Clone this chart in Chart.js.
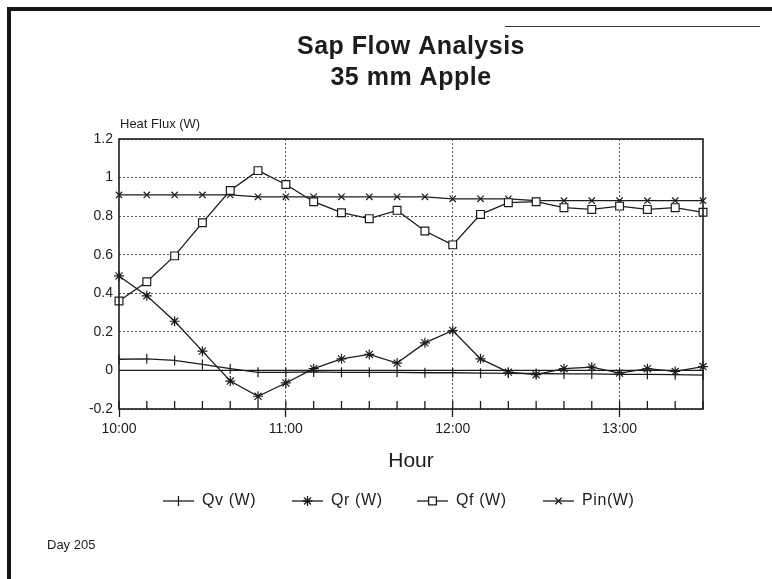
<!DOCTYPE html>
<html>
<head>
<meta charset="utf-8">
<script src="https://cdn.jsdelivr.net/npm/chart.js@4.4.0/dist/chart.umd.min.js"></script>
<style>
  html, body { margin: 0; padding: 0; background: #fff; }
  #wrap { width: 772px; height: 579px; position: relative; }
</style>
</head>
<body>
<div id="wrap"><canvas id="flux"></canvas></div>
<script>
// readings every 10 minutes, Day 205
const times = ['10:00','10:10','10:20','10:30','10:40','10:50','11:00','11:10','11:20','11:30','11:40',
               '11:50','12:00','12:10','12:20','12:30','12:40','12:50','13:00','13:10','13:20','13:30'];
const qv  = [0.058, 0.06, 0.052, 0.031, 0.009, -0.01, -0.01, -0.008, -0.01, -0.01, -0.01,
             -0.012, -0.012, -0.014, -0.015, -0.016, -0.018, -0.018, -0.02, -0.02, -0.022, -0.024];
const qr  = [0.49, 0.387, 0.255, 0.10, -0.055, -0.134, -0.065, 0.009, 0.06, 0.083, 0.038,
             0.143, 0.207, 0.06, -0.009, -0.022, 0.009, 0.017, -0.014, 0.009, -0.005, 0.02];
const qf  = [0.36, 0.46, 0.594, 0.766, 0.933, 1.036, 0.964, 0.875, 0.818, 0.787, 0.83,
             0.723, 0.651, 0.809, 0.87, 0.875, 0.844, 0.835, 0.852, 0.835, 0.844, 0.82];
const pin = [0.91, 0.91, 0.91, 0.91, 0.91, 0.90, 0.90, 0.90, 0.90, 0.90, 0.90,
             0.90, 0.89, 0.89, 0.89, 0.88, 0.88, 0.88, 0.88, 0.88, 0.88, 0.88];
const seriesNames = ['Qv (W)', 'Qr (W)', 'Qf (W)', 'Pin(W)'];

const FONT = "'Liberation Sans', Arial, sans-serif";
const INK = '#1c1c1c';

function isHour(i) { return times[i] && times[i].endsWith(':00'); }

function lineSet(label, data, style, radius, extra) {
  return Object.assign({
    label: label,
    data: data,
    borderColor: INK,
    borderWidth: 1.3,
    tension: 0,
    pointStyle: style,
    pointRadius: radius,
    pointBorderColor: INK,
    pointBorderWidth: 1.2,
    pointBackgroundColor: '#fff'
  }, extra || {});
}

// frame, box, zero line, inner minute ticks, texts and legend
const paperPlugin = {
  id: 'paper',
  afterDraw(chart) {
    const { ctx, chartArea: a, scales } = chart;
    const x = scales.x, y = scales.y;
    ctx.save();

    // zero line
    ctx.strokeStyle = INK;
    ctx.lineWidth = 1.3;
    ctx.beginPath();
    ctx.moveTo(a.left, y.getPixelForValue(0));
    ctx.lineTo(a.right, y.getPixelForValue(0));
    ctx.stroke();

    // plot box
    ctx.lineWidth = 1.6;
    ctx.strokeRect(a.left, a.top, a.right - a.left, a.bottom - a.top);

    // upward ticks every 10 minutes
    ctx.lineWidth = 1.3;
    times.forEach((t, i) => {
      const px = x.getPixelForValue(i);
      ctx.beginPath();
      ctx.moveTo(px, a.bottom);
      ctx.lineTo(px, a.bottom - 8);
      ctx.stroke();
    });

    // page frame
    ctx.fillStyle = '#151515';
    ctx.fillRect(7, 7, 772 - 7, 4);
    ctx.fillRect(7, 7, 4, 579 - 7);
    ctx.strokeStyle = '#333';
    ctx.lineWidth = 1;
    ctx.beginPath();
    ctx.moveTo(505, 26.5);
    ctx.lineTo(760, 26.5);
    ctx.stroke();

    // titles
    ctx.fillStyle = INK;
    ctx.textAlign = 'center';
    ctx.textBaseline = 'middle';
    ctx.font = 'bold 25px ' + FONT;
    ctx.letterSpacing = '0.5px';
    ctx.fillText('Sap Flow Analysis', 411, 47);
    ctx.fillText('35 mm Apple', 411, 78);
    ctx.letterSpacing = '0px';

    ctx.textAlign = 'left';
    ctx.font = '13px ' + FONT;
    ctx.fillText('Heat Flux (W)', a.left + 1, a.top - 15);
    ctx.fillText('Day 205', 47, 545);

    // legend: short line with the series marker, then its name
    const items = chart.data.datasets;
    const starts = [163, 292, 417, 543];
    const ly = 501;
    ctx.font = '16px ' + FONT;
    ctx.letterSpacing = '0.6px';
    items.forEach((ds, i) => {
      const sx = starts[i];
      ctx.strokeStyle = INK;
      ctx.lineWidth = 1.3;
      ctx.beginPath();
      ctx.moveTo(sx, ly);
      ctx.lineTo(sx + 31, ly);
      ctx.stroke();
      ctx.fillStyle = '#fff';
      Chart.helpers.drawPoint(ctx, {
        pointStyle: ds.pointStyle,
        radius: ds.pointRadius,
        rotation: ds.pointRotation || 0,
        borderWidth: 1.2
      }, sx + 15.5, ly);
      ctx.fillStyle = INK;
      ctx.fillText(seriesNames[i], sx + 39, ly);
    });

    ctx.restore();
  }
};

new Chart(document.getElementById('flux'), {
  type: 'line',
  data: {
    labels: times,
    datasets: [
      lineSet(seriesNames[0], qv, 'line', 5, { pointRotation: 90 }),
      lineSet(seriesNames[1], qr, 'star', 5),
      lineSet(seriesNames[2], qf, 'rect', 5.5),
      lineSet(seriesNames[3], pin, 'crossRot', 4.5)
    ]
  },
  options: {
    responsive: true,
    maintainAspectRatio: false,
    animation: false,
    layout: { padding: { left: 74, right: 69, top: 139, bottom: 102 } },
    plugins: {
      legend: { display: false },
      title: { display: false },
      tooltip: { enabled: false }
    },
    scales: {
      x: {
        type: 'category',
        offset: false,
        afterFit(scale) { scale.height = 68; },
        grid: {
          color: ctx => (ctx.index > 0 && ctx.index < times.length - 1 && isHour(ctx.index)) ? '#555' : 'rgba(0,0,0,0)',
          lineWidth: 1,
          drawTicks: true,
          tickLength: 8,
          tickColor: ctx => isHour(ctx.index) ? INK : 'rgba(0,0,0,0)',
          tickWidth: 1.3,
          tickBorderDash: []
        },
        border: { display: false, dash: [2, 2] },
        ticks: {
          autoSkip: false,
          maxRotation: 0,
          padding: 4,
          color: INK,
          font: { family: FONT, size: 14 },
          callback(val, i) { return isHour(i) ? times[i] : ''; }
        },
        title: {
          display: true,
          text: 'Hour',
          color: INK,
          font: { family: FONT, size: 21 },
          padding: { top: 0, bottom: 3 }
        }
      },
      y: {
        min: -0.2,
        max: 1.2,
        afterFit(scale) { scale.width = 45; },
        grid: {
          color: '#555',
          lineWidth: 1,
          drawTicks: false
        },
        border: { display: false, dash: [2, 2] },
        ticks: {
          stepSize: 0.2,
          padding: 6,
          color: INK,
          font: { family: FONT, size: 14 },
          callback: v => String(Number(v.toFixed(1)))
        }
      }
    }
  },
  plugins: [paperPlugin]
});
</script>
</body>
</html>
